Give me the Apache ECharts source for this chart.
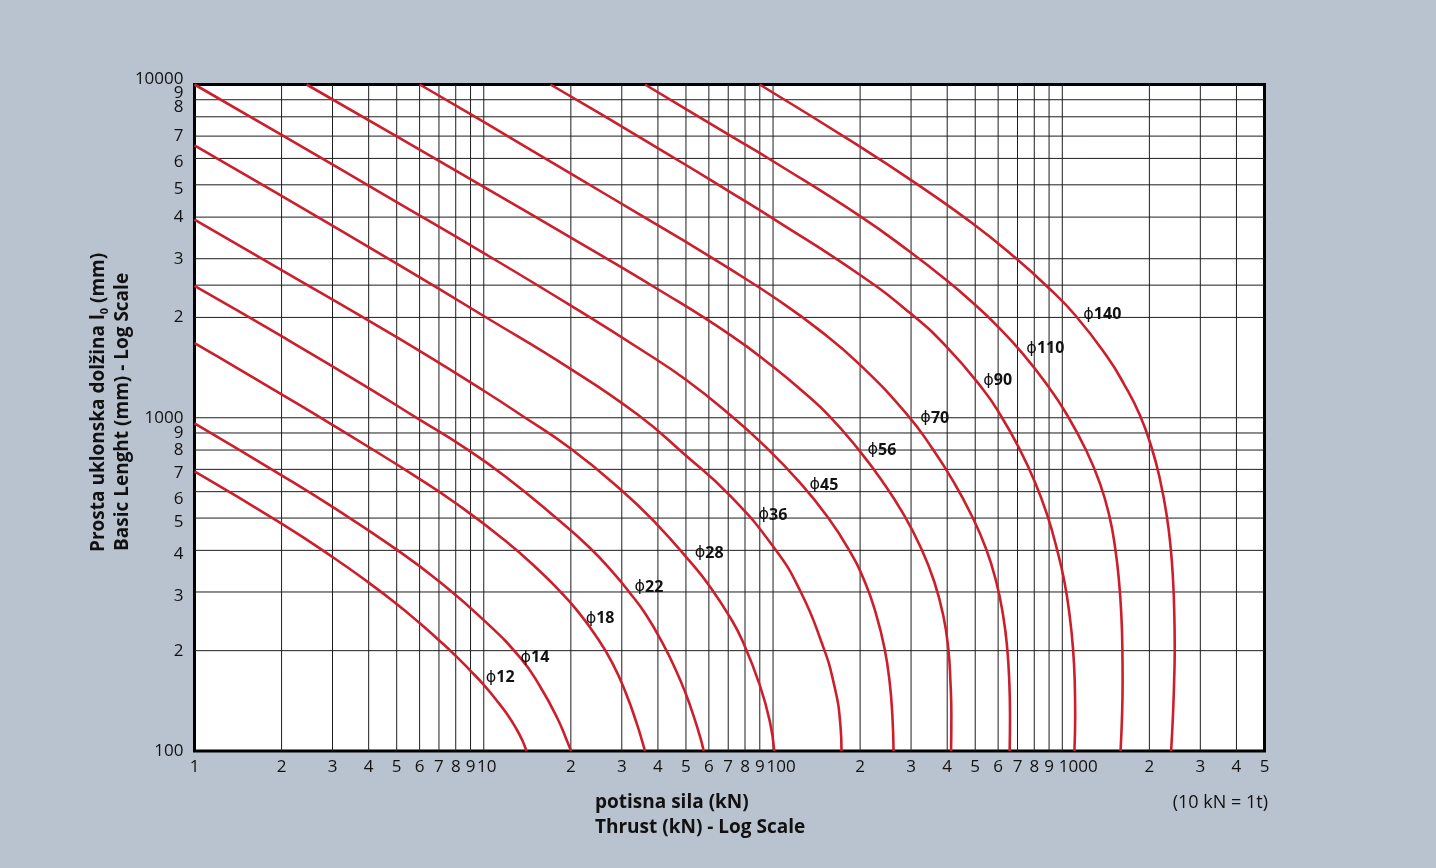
<!DOCTYPE html>
<html>
<head>
<meta charset="utf-8">
<script src="https://cdn.jsdelivr.net/npm/echarts@6/dist/echarts.min.js"></script>
<style>
html,body{margin:0;padding:0;background:#b9c3cf;}
#c{width:1436px;height:868px;}
</style>
</head>
<body>
<div id="c"></div>
<script>
// ---- tick values and labels ----
const xTicks = [1,2,3,4,5,6,7,8,9,10,20,30,40,50,60,70,80,90,100,200,300,400,500,600,700,800,900,1000,2000,3000,4000,5000];
const xTickLabels = ['1','2','3','4','5','6','7','8','9','10','2','3','4','5','6','7','8','9','100','2','3','4','5','6','7','8','9','1000','2','3','4','5'];
const yTicks = [100,200,300,400,500,600,700,800,900,1000,2000,2500,3000,4000,5000,6000,7000,8000,9000,10000];
const yTickLabels = ['100','2','3','4','5','6','7','8','9','1000','2','','3','4','5','6','7','8','9','10000'];

// ---- curves: thrust (kN) vs basic length (mm) ----
const diameters = ['12','14','18','22','28','36','45','56','70','90','110','140'];
const force12  = [1,2,3,4,5,6,7,8,9,10,11,12,13,13.6,14.05];
const length12 = [690,481,382,320,276,242,215,193,174,158,143,129.5,116,107.5,100];
const force14  = [1,2,3,5,7,10,13.4,15.6,18,19.5,20.05];
const length14 = [962,672,540,402,323,247,190,157,125,106,100];
const force18  = [1,1.2,2,2.8,4,5.7,8,11.9,15.6,18.5,20.8,24.3,27.9,31.1,34,35.4,36.1];
const length18 = [1675,1527,1175,987,817,674,554,427,347,299,267,223,183,148,119,106,100];
const force22  = [1,2,4,5.9,8.5,11.9,17.8,23.2,28,32,36.2,41.6,46.4,50,53.2,56,57.6];
const length22 = [2487,1757,1228,995,818,665,500,408,343,298,258,210,173,148,127,110,100];
const force28  = [1,2,5,10,13.45,19.9,29.8,39.3,52.3,60.8,71.3,78.3,89.8,97.5,101];
const length28 = [3928,2775,1745,1205,1019,810,608,483,365.5,309.7,250.5,214.5,158.4,122.6,100];
const force36  = [1,2,5,10,20,34.2,48.8,70.7,101.3,124.7,147.1,161.8,171,172.5];
const length36 = [6570,4630,2900,2020,1400,1019,784,586,405,300,212,161,119.4,100];
const force45  = [1,2,5,10,20,35,50,71.1,95.5,123.2,152.8,182,207.6,227.8,243,253,258.5,261];
const length45 = [10000,7060,4440,3120,2170,1600,1300,1019,809,642,510,405,322,255,203,161,128,100];
const force56  = [2.44,5,10,20,40,71.3,101.3,128,155.4,196,239.5,283.8,325.3,360.9,387.7,403.5,410.5,413.5,412.5];
const length56 = [10000,6990,4930,3470,2430,1770,1410,1190,1019,809,642,510,405,322,255,203,161,128,100];
const force70  = [6.01,10,20,35,50,70.2,101.3,145,200.4,291.7,355.3,421,485.3,544.6,591,624.3,645,655.8,659.5,657.7];
const length70 = [10000,7720,5400,4050,3370,2810,2291,1829,1438,1019,809,642,510,405,322,255,203,161,128,100];
const force90  = [17,25,35,50,70,101,200,297,396,533,611,710,804,887,957,1017,1060,1089,1104,1108,1101];
const length90 = [10000,8220,6900,5734,4797,3940,2681,2064,1640,1214,1019,809,642,510,405,322,255,203,161,128,100];
const force110  = [36.1,50,70.2,101.3,200.4,297.3,396.3,490.8,593,728.4,896,1028,1211,1352,1456,1524,1571,1600,1613,1616,1609,1590];
const length110 = [10000,8440,7074,5843,4022,3148,2593,2212,1893,1560,1238,1035,796,632,505,405,322,255,203,161,128,100];
const force140  = [89.9,199.9,311.8,490,680.8,888.1,1106.5,1427.5,1637.4,1851.6,2039,2184,2294,2370,2416,2439,2447,2435,2413,2378];
const length140 = [10000,6508,5051,3828,3043,2473,2034,1526,1258,1021,810,643,511,406,322,256,203,161,128,100];

// curve label anchors (thrust, length)
const labelForce  = [10.16,13.4,22.5,33.2,53.6,89.1,133.7,212,323,533,751,1182];
const labelLength = [166,191,250,310,392,510,628,800,998,1290,1610,2036];

// ---- styling (not data) ----
const FONT = "'Open Sans', 'Noto Sans', sans-serif";
const RED = '#cd1e2c';
const xLabelShift = xTickLabels.map(t => t === '10' ? 3 : t === '100' ? 8 : t === '1000' ? 16 : 0);
const yLabelShift = yTicks.map(v => {
  if (v === 10000) return -5;
  if (v === 9000) return -7;
  if (v === 8000) return -10;
  if (v === 6000 || v === 5000) return 4;
  if (v === 600) return 7;
  if (v === 700 || v === 500 || v === 400 || v === 300) return 4;
  return 0;
});

const curveForces = [force12,force14,force18,force22,force28,force36,force45,force56,force70,force90,force110,force140];
const curveLengths = [length12,length14,length18,length22,length28,length36,length45,length56,length70,length90,length110,length140];

const curveSeries = diameters.map((d, k) => ({
  type: 'line',
  name: '\u03D5' + d,
  data: curveForces[k].map((f, i) => [f, curveLengths[k][i]]),
  smooth: 0.5,
  showSymbol: false,
  symbol: 'none',
  z: 3,
  silent: true,
  lineStyle: { color: RED, width: 2.6 }
}));

const gridData = [];
xTicks.forEach(v => { if (v > 1 && v < 5000) gridData.push([v, 100, 0]); });
yTicks.forEach(v => { if (v > 100 && v < 10000) gridData.push([1, v, 1]); });

const gridSeries = {
  type: 'custom', z: 1, silent: true,
  data: gridData,
  renderItem: (params, api) => {
    const a = api.value(0), b = api.value(1), dir = api.value(2);
    const p1 = dir === 0 ? api.coord([a, 100]) : api.coord([1, b]);
    const p2 = dir === 0 ? api.coord([a, 10000]) : api.coord([5000, b]);
    return { type: 'line', shape: { x1: p1[0], y1: p1[1], x2: p2[0], y2: p2[1] },
             style: { stroke: '#1e1e1e', lineWidth: 1 } };
  }
};

const xLabelSeries = {
  type: 'custom', z: 5, silent: true, clip: false,
  data: xTicks.map((v, i) => [v, 100, i]),
  renderItem: (params, api) => {
    const i = params.dataIndex;
    const p = api.coord([api.value(0), api.value(1)]);
    return { type: 'text', x: p[0] + xLabelShift[i], y: p[1] + 16,
      style: { text: xTickLabels[i], fill: '#111', fontSize: 17, fontFamily: FONT, align: 'center', verticalAlign: 'middle' } };
  }
};

const yLabelSeries = {
  type: 'custom', z: 5, silent: true, clip: false,
  data: yTicks.map((v, i) => [1, v, i]),
  renderItem: (params, api) => {
    const i = params.dataIndex;
    const p = api.coord([api.value(0), api.value(1)]);
    return { type: 'text', x: p[0] - 11, y: p[1] + yLabelShift[i],
      style: { text: yTickLabels[i], fill: '#111', fontSize: 17, fontFamily: FONT, align: 'right', verticalAlign: 'middle' } };
  }
};

const curveLabelSeries = {
  type: 'custom', z: 6, silent: true, clip: false,
  data: labelForce.map((f, i) => [f, labelLength[i], i]),
  renderItem: (params, api) => {
    const i = params.dataIndex;
    const p = api.coord([api.value(0), api.value(1)]);
    return { type: 'text', x: p[0], y: p[1],
      style: {
        text: '{p|\u03D5}{n|' + diameters[i] + '}',
        align: 'left', verticalAlign: 'middle',
        rich: {
          p: { fontFamily: "'DejaVu Sans'", fontSize: 16, fill: '#111', fontWeight: 'normal' },
          n: { fontFamily: FONT, fontSize: 16, fontWeight: 'bold', fill: '#111' }
        }
      } };
  }
};

const chart = echarts.init(document.getElementById('c'), null, { renderer: 'canvas', width: 1436, height: 868 });
chart.setOption({
  animation: false,
  backgroundColor: '#b9c3cf',
  grid: { left: 194.5, right: 171.5, top: 84.5, bottom: 117, show: true,
          backgroundColor: '#ffffff', borderColor: '#000000', borderWidth: 3 },
  xAxis: { type: 'log', logBase: 10, min: 1, max: 5000,
           axisLine: { show: false }, axisTick: { show: false }, axisLabel: { show: false }, splitLine: { show: false } },
  yAxis: { type: 'log', logBase: 10, min: 100, max: 10000,
           axisLine: { show: false }, axisTick: { show: false }, axisLabel: { show: false }, splitLine: { show: false } },
  graphic: [
    { type: 'text', x: 98.5, y: 552, rotation: Math.PI / 2, z: 10,
      style: { text: '{b|Prosta uklonska dol\u017eina l}{s|0}{b| (mm)}', align: 'left', verticalAlign: 'middle',
        rich: { b: { fontFamily: FONT, fontWeight: 'bold', fontSize: 19, fill: '#111', lineHeight: 24 },
                s: { fontFamily: FONT, fontWeight: 'bold', fontSize: 11, fill: '#111', lineHeight: 24, verticalAlign: 'bottom' } } } },
    { type: 'text', x: 123, y: 551, rotation: Math.PI / 2, z: 10,
      style: { text: 'Basic Lenght (mm) - Log Scale', align: 'left', verticalAlign: 'middle',
        fontFamily: FONT, fontWeight: 'bold', fontSize: 19, fill: '#111' } },
    { type: 'text', x: 595, y: 803, z: 10,
      style: { text: 'potisna sila (kN)', align: 'left', verticalAlign: 'middle',
        fontFamily: FONT, fontWeight: 'bold', fontSize: 19, fill: '#111' } },
    { type: 'text', x: 595, y: 828, z: 10,
      style: { text: 'Thrust (kN) - Log Scale', align: 'left', verticalAlign: 'middle',
        fontFamily: FONT, fontWeight: 'bold', fontSize: 19, fill: '#111' } },
    { type: 'text', x: 1268, y: 803, z: 10,
      style: { text: '(10 kN = 1t)', align: 'right', verticalAlign: 'middle',
        fontFamily: FONT, fontSize: 18, fill: '#111' } }
  ],
  series: [gridSeries].concat(curveSeries, [xLabelSeries, yLabelSeries, curveLabelSeries])
});
</script>
</body>
</html>
